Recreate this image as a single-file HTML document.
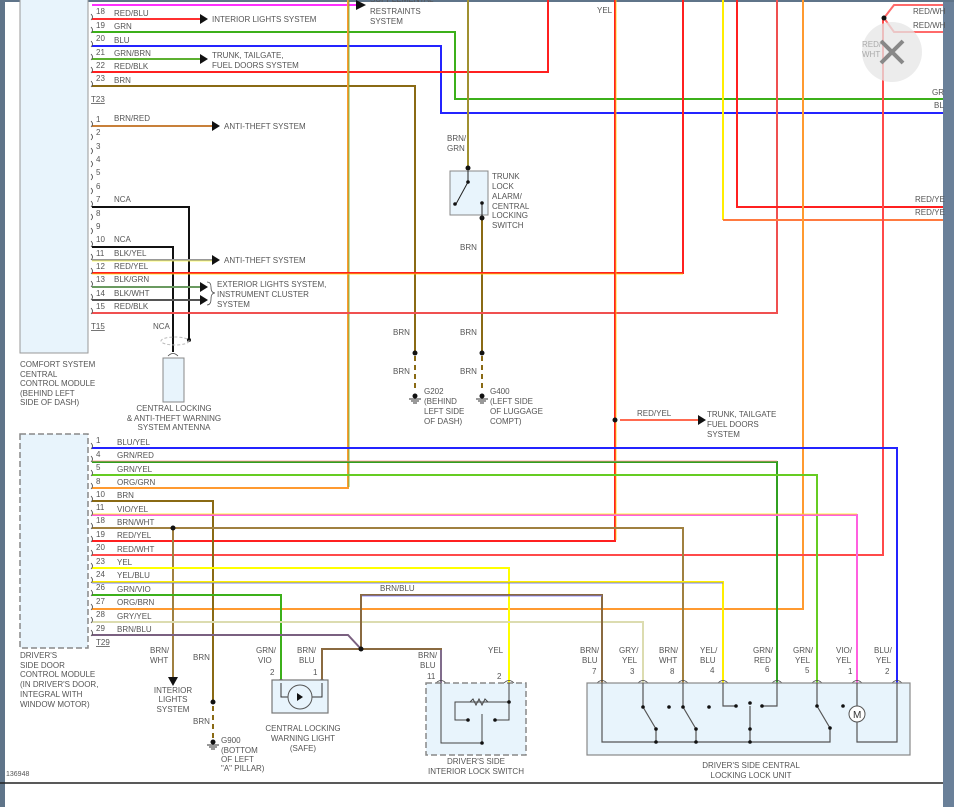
<!DOCTYPE html>
<html><head><meta charset="utf-8"><style>
html,body{margin:0;padding:0;background:#fff;}
svg{display:block;}
text{font-family:"Liberation Sans",sans-serif;font-size:8px;fill:#555;}
</style></head><body>
<svg width="954" height="807" viewBox="0 0 954 807" xmlns="http://www.w3.org/2000/svg">
<rect x="0" y="0" width="954" height="807" fill="#fff"/>
<rect x="0" y="0" width="5" height="807" fill="#5f7489"/>
<rect x="943" y="0" width="11" height="807" fill="#6a8099"/>
<rect x="0" y="0" width="954" height="2" fill="#5f7489"/>
<line x1="0" y1="783" x2="943" y2="783" stroke="#222" stroke-width="1.5"/>

<!-- modules -->
<rect x="20" y="-2" width="68" height="355" fill="#e8f4fc" stroke="#999" stroke-width="1"/>
<rect x="20" y="434" width="68" height="214" fill="#e8f4fc" stroke="#888" stroke-width="1.5" stroke-dasharray="6,3"/>

<g fill="none" stroke-width="2">
<!-- top connector wires -->
<path d="M92 5H356" stroke="#ff30ff"/>
<path d="M92 19H200" stroke="#ff3030"/>
<path d="M92 32H455V99H943" stroke="#3cb01a"/>
<path d="M92 46H441V113H943" stroke="#2424ff"/>
<path d="M92 59H200" stroke="#5cb030"/>
<path d="M92 72H548V0" stroke="#ff2020"/>
<path d="M92 86H415V353" stroke="#8a6a14"/>
<path d="M415 356V392" stroke="#8a6a14" stroke-dasharray="5,4"/>
<path d="M348 0V488H92" stroke="#ff9a30"/>
<path d="M349 0V487" stroke="#5cb030" stroke-width="0.8"/>
<path d="M468 0V168" stroke="#a09030"/>
<path d="M482 218V353" stroke="#8a6a14"/>
<path d="M482 356V392" stroke="#8a6a14" stroke-dasharray="5,4"/>
<path d="M92 126H212" stroke="#c8803a"/>
<path d="M92 207H189V340" stroke="#111"/>
<path d="M92 247H173V352" stroke="#111"/>
<path d="M92 260H212" stroke="#999"/>
<path d="M92 261H212" stroke="#ffff40" stroke-width="0.8"/>
<path d="M92 273H683V0" stroke="#ff2020"/>
<path d="M92 274H683" stroke="#ffdd00" stroke-width="0.8"/>
<path d="M92 287H200" stroke="#6a9a60"/>
<path d="M92 300H200" stroke="#555"/>
<path d="M92 313H777V0" stroke="#f05050"/>
<path d="M615 0V541H92" stroke="#ff2020"/>
<path d="M616 0V540" stroke="#ffcc00" stroke-width="0.8"/>
<path d="M620 420H698" stroke="#ff6a50"/>
<path d="M723 0V220" stroke="#ffee00"/>
<path d="M723 220H943" stroke="#ff7a40"/>
<path d="M737 0V207H943" stroke="#ff2020"/>
<path d="M803 0V609H92" stroke="#ff9a30"/>
<path d="M883 18V555H92" stroke="#ff4a4a"/>
<path d="M884 18L894 5H943M884 18L894 32H943" stroke="#ff6a6a"/>
<!-- bottom connector wires -->
<path d="M92 448H897V683" stroke="#2424ff"/>
<path d="M92 462H777V683" stroke="#30a020"/>
<path d="M92 461H777" stroke="#ff9090" stroke-width="0.8"/>
<path d="M92 475H817V683" stroke="#66cc22"/>
<path d="M92 501H213V702" stroke="#8a6a14"/>
<path d="M213 706V738" stroke="#8a6a14" stroke-dasharray="5,4"/>
<path d="M92 515H857V683" stroke="#ff60e0"/>
<path d="M92 514H857" stroke="#ffee00" stroke-width="0.8"/>
<path d="M92 528H683V683" stroke="#a08040"/>
<path d="M173 528V680" stroke="#a08040"/>
<path d="M92 568H509V683" stroke="#ffff00"/>
<path d="M92 582H723V683" stroke="#ffee00"/>
<path d="M92 583H723" stroke="#5060ff" stroke-width="0.8"/>
<path d="M92 595H281V683" stroke="#3cb01a"/>
<path d="M92 622H643V683" stroke="#dcdcb0"/>
<path d="M92 635H348L361 649" stroke="#7a6080"/>
<path d="M361 649H322V683M361 649H441V683M361 649V595H602V683" stroke="#8a6a40"/>
<path d="M362 596H602M441 650V683" stroke="#7070ff" stroke-width="0.8"/>
</g>

<!-- arrows -->
<g fill="#111">
<polygon points="356,0 366,5 356,10"/>
<polygon points="200,14 208,19 200,24"/>
<polygon points="200,54 208,59 200,64"/>
<polygon points="212,121 220,126 212,131"/>
<polygon points="212,255 220,260 212,265"/>
<polygon points="200,282 208,287 200,292"/>
<polygon points="200,295 208,300 200,305"/>
<polygon points="698,415 706,420 698,425"/>
<polygon points="168,677 178,677 173,686"/>
</g>
<path d="M207 282q4 0 4 5q0 6 4 6q-4 0-4 6q0 6-4 6" fill="none" stroke="#555" stroke-width="0.8"/>

<!-- dots -->
<g fill="#111">
<circle cx="173" cy="528" r="2.5"/><circle cx="361" cy="649" r="2.5"/>
<circle cx="615" cy="420" r="2.5"/><circle cx="884" cy="18" r="2.5"/>
<circle cx="415" cy="353" r="2.5"/><circle cx="482" cy="353" r="2.5"/>
<circle cx="213" cy="702" r="2.5"/><circle cx="468" cy="168" r="2.5"/>
<circle cx="482" cy="218" r="2.5"/><circle cx="189" cy="340" r="2"/>
<circle cx="415" cy="396" r="2.5"/><circle cx="482" cy="396" r="2.5"/><circle cx="213" cy="742" r="2.5"/>
</g>
<g stroke="#333" stroke-width="1">
<path d="M409 399h12M411 401h8M413 403h4"/>
<path d="M476 399h12M478 401h8M480 403h4"/>
<path d="M207 745h12M209 747h8M211 749h4"/>
</g>

<!-- connector glyphs -->
<g fill="none" stroke="#444" stroke-width="0.8">
<path d="M91 14q3 3 0 6M91 27q3 3 0 6M91 41q3 3 0 6M91 54q3 3 0 6M91 67q3 3 0 6M91 81q3 3 0 6"/>
<path d="M91 121q3 3 0 6M91 134q3 3 0 6M91 148q3 3 0 6M91 161q3 3 0 6M91 174q3 3 0 6M91 188q3 3 0 6M91 201q3 3 0 6M91 214q3 3 0 6M91 228q3 3 0 6M91 241q3 3 0 6M91 254q3 3 0 6M91 268q3 3 0 6M91 281q3 3 0 6M91 294q3 3 0 6M91 308q3 3 0 6"/>
<path d="M91 443q3 3 0 6M91 456q3 3 0 6M91 470q3 3 0 6M91 483q3 3 0 6M91 496q3 3 0 6M91 510q3 3 0 6M91 523q3 3 0 6M91 536q3 3 0 6M91 550q3 3 0 6M91 563q3 3 0 6M91 577q3 3 0 6M91 590q3 3 0 6M91 604q3 3 0 6M91 617q3 3 0 6M91 630q3 3 0 6"/>
<path d="M597 683q5-5 10 0M638 683q5-5 10 0M678 683q5-5 10 0M718 683q5-5 10 0M772 683q5-5 10 0M812 683q5-5 10 0M852 683q5-5 10 0M892 683q5-5 10 0M276 682q5-5 10 0M317 682q5-5 10 0M436 683q5-5 10 0M504 683q5-5 10 0M168 356q5-5 10 0"/>
</g>

<!-- components -->
<rect x="450" y="171" width="38" height="44" fill="#e8f4fc" stroke="#888"/>
<path d="M468 171V182L456 204M482 203V218" stroke="#222" fill="none"/>
<circle cx="468" cy="182" r="1.8" fill="#111"/><circle cx="455" cy="204" r="1.8" fill="#111"/><circle cx="482" cy="203" r="1.8" fill="#111"/>
<ellipse cx="175" cy="341" rx="14" ry="4" fill="none" stroke="#bbb" stroke-dasharray="3,2"/>
<rect x="163" y="358" width="21" height="44" fill="#e8f4fc" stroke="#888"/>
<rect x="272" y="680" width="56" height="33" fill="#e8f4fc" stroke="#777" stroke-width="1.2"/>
<path d="M281 683V697H322V683" fill="none" stroke="#333"/>
<circle cx="300" cy="697" r="12" fill="#e8f4fc" stroke="#555"/>
<polygon points="297,693 297,701 303,697" fill="#111"/>
<rect x="426" y="683" width="100" height="72" fill="#e8f4fc" stroke="#888" stroke-width="1.5" stroke-dasharray="6,3"/>
<path d="M441 683V743H482V720M509 683V702H455V720H468M509 702V720H495M482 720V714M468 702" fill="none" stroke="#444"/>
<path d="M470 702l3-3 3 6 3-6 3 6 3-6 3 3" fill="none" stroke="#444"/>
<g fill="#111"><circle cx="468" cy="720" r="1.8"/><circle cx="495" cy="720" r="1.8"/><circle cx="509" cy="702" r="1.8"/><circle cx="482" cy="743" r="1.8"/></g>
<rect x="587" y="683" width="323" height="72" fill="#e8f4fc" stroke="#888" stroke-width="1.2"/>
<path d="M602 683V742H830V728M643 683V707L656 729V742M683 683V707L696 729V742M723 683V706H736M777 683V706H762M750 706V742M817 683V706L830 728M857 683V706M857 722V742H897V683" fill="none" stroke="#555" stroke-width="1.2"/>
<circle cx="857" cy="714" r="8" fill="#fff" stroke="#555"/>
<text x="853" y="718" style="font-size:10px;fill:#333">M</text>
<g fill="#111"><circle cx="643" cy="707" r="1.8"/><circle cx="656" cy="729" r="1.8"/><circle cx="669" cy="707" r="1.8"/><circle cx="683" cy="707" r="1.8"/><circle cx="696" cy="729" r="1.8"/><circle cx="709" cy="707" r="1.8"/><circle cx="736" cy="706" r="1.8"/><circle cx="750" cy="703" r="1.8"/><circle cx="750" cy="729" r="1.8"/><circle cx="762" cy="706" r="1.8"/><circle cx="817" cy="706" r="1.8"/><circle cx="830" cy="728" r="1.8"/><circle cx="843" cy="706" r="1.8"/><circle cx="656" cy="742" r="1.8"/><circle cx="696" cy="742" r="1.8"/><circle cx="750" cy="742" r="1.8"/></g>

<!-- close overlay -->
<circle cx="892" cy="52" r="30" fill="#e6e6e6" fill-opacity="0.75"/>
<path d="M881 41L903 63M903 41L881 63" stroke="#888" stroke-width="4"/>

<!-- labels top -->
<text x="370" y="2">SUPPLEMENTAL</text><text x="370" y="14">RESTRAINTS</text><text x="370" y="24">SYSTEM</text>
<text x="96" y="14">18</text><text x="114" y="16">RED/BLU</text>
<text x="96" y="28">19</text><text x="114" y="29">GRN</text>
<text x="96" y="41">20</text><text x="114" y="43">BLU</text>
<text x="96" y="55">21</text><text x="114" y="56">GRN/BRN</text>
<text x="96" y="68">22</text><text x="114" y="69">RED/BLK</text>
<text x="96" y="81">23</text><text x="114" y="83">BRN</text>
<text x="212" y="22">INTERIOR LIGHTS SYSTEM</text>
<text x="212" y="58">TRUNK, TAILGATE,</text><text x="212" y="68">FUEL DOORS SYSTEM</text>
<text x="91" y="102" text-decoration="underline">T23</text>
<text x="96" y="122">1</text><text x="114" y="121">BRN/RED</text>
<text x="96" y="135">2</text><text x="96" y="149">3</text><text x="96" y="162">4</text><text x="96" y="175">5</text><text x="96" y="189">6</text>
<text x="96" y="202">7</text><text x="114" y="202">NCA</text>
<text x="96" y="216">8</text><text x="96" y="229">9</text>
<text x="96" y="242">10</text><text x="114" y="242">NCA</text>
<text x="96" y="256">11</text><text x="114" y="256">BLK/YEL</text>
<text x="96" y="269">12</text><text x="114" y="269">RED/YEL</text>
<text x="96" y="282">13</text><text x="114" y="282">BLK/GRN</text>
<text x="96" y="296">14</text><text x="114" y="296">BLK/WHT</text>
<text x="96" y="309">15</text><text x="114" y="309">RED/BLK</text>
<text x="224" y="129">ANTI-THEFT SYSTEM</text>
<text x="224" y="263">ANTI-THEFT SYSTEM</text>
<text x="217" y="287">EXTERIOR LIGHTS SYSTEM,</text><text x="217" y="297">INSTRUMENT CLUSTER</text><text x="217" y="307">SYSTEM</text>
<text x="91" y="329" text-decoration="underline">T15</text>
<text x="153" y="329">NCA</text>
<text x="20" y="367">COMFORT SYSTEM</text><text x="20" y="377">CENTRAL</text><text x="20" y="386">CONTROL MODULE</text><text x="20" y="396">(BEHIND LEFT</text><text x="20" y="405">SIDE OF DASH)</text>
<text x="174" y="411" text-anchor="middle">CENTRAL LOCKING</text><text x="174" y="421" text-anchor="middle">&amp; ANTI-THEFT WARNING</text><text x="174" y="430" text-anchor="middle">SYSTEM ANTENNA</text>
<text x="447" y="141">BRN/</text><text x="447" y="151">GRN</text>
<text x="492" y="179">TRUNK</text><text x="492" y="189">LOCK</text><text x="492" y="199">ALARM/</text><text x="492" y="209">CENTRAL</text><text x="492" y="218">LOCKING</text><text x="492" y="228">SWITCH</text>
<text x="460" y="250">BRN</text>
<text x="393" y="335">BRN</text><text x="460" y="335">BRN</text>
<text x="393" y="374">BRN</text><text x="460" y="374">BRN</text>
<text x="424" y="394">G202</text><text x="424" y="404">(BEHIND</text><text x="424" y="414">LEFT SIDE</text><text x="424" y="424">OF DASH)</text>
<text x="490" y="394">G400</text><text x="490" y="404">(LEFT SIDE</text><text x="490" y="414">OF LUGGAGE</text><text x="490" y="424">COMPT)</text>
<text x="597" y="13">YEL</text>
<text x="913" y="14">RED/WH</text><text x="913" y="28">RED/WH</text>
<text x="862" y="47" style="fill:#aaa">RED/</text><text x="862" y="57" style="fill:#aaa">WHT</text>
<text x="932" y="95">GR</text><text x="934" y="108">BL</text>
<text x="915" y="202">RED/YE</text><text x="915" y="215">RED/YE</text>
<text x="637" y="416">RED/YEL</text>
<text x="707" y="417">TRUNK, TAILGATE</text><text x="707" y="427">FUEL DOORS</text><text x="707" y="437">SYSTEM</text>
<!-- bottom connector labels -->
<text x="96" y="443">1</text><text x="117" y="445">BLU/YEL</text>
<text x="96" y="457">4</text><text x="117" y="458">GRN/RED</text>
<text x="96" y="470">5</text><text x="117" y="472">GRN/YEL</text>
<text x="96" y="484">8</text><text x="117" y="485">ORG/GRN</text>
<text x="96" y="497">10</text><text x="117" y="498">BRN</text>
<text x="96" y="510">11</text><text x="117" y="512">VIO/YEL</text>
<text x="96" y="523">18</text><text x="117" y="525">BRN/WHT</text>
<text x="96" y="537">19</text><text x="117" y="538">RED/YEL</text>
<text x="96" y="550">20</text><text x="117" y="552">RED/WHT</text>
<text x="96" y="564">23</text><text x="117" y="565">YEL</text>
<text x="96" y="577">24</text><text x="117" y="578">YEL/BLU</text>
<text x="96" y="590">26</text><text x="117" y="592">GRN/VIO</text>
<text x="96" y="604">27</text><text x="117" y="605">ORG/BRN</text>
<text x="96" y="617">28</text><text x="117" y="619">GRY/YEL</text>
<text x="96" y="631">29</text><text x="117" y="632">BRN/BLU</text>
<text x="96" y="645" text-decoration="underline">T29</text>
<text x="380" y="591">BRN/BLU</text>
<text x="20" y="658">DRIVER'S</text><text x="20" y="668">SIDE DOOR</text><text x="20" y="677">CONTROL MODULE</text><text x="20" y="687">(IN DRIVER'S DOOR,</text><text x="20" y="697">INTEGRAL WITH</text><text x="20" y="707">WINDOW MOTOR)</text>
<text x="150" y="653">BRN/</text><text x="150" y="663">WHT</text>
<text x="193" y="660">BRN</text>
<text x="173" y="693" text-anchor="middle">INTERIOR</text><text x="173" y="702" text-anchor="middle">LIGHTS</text><text x="173" y="712" text-anchor="middle">SYSTEM</text>
<text x="193" y="724">BRN</text>
<text x="221" y="743">G900</text><text x="221" y="753">(BOTTOM</text><text x="221" y="762">OF LEFT</text><text x="221" y="771">"A" PILLAR)</text>
<text x="256" y="653">GRN/</text><text x="258" y="663">VIO</text><text x="270" y="675">2</text>
<text x="297" y="653">BRN/</text><text x="299" y="663">BLU</text><text x="313" y="675">1</text>
<text x="303" y="731" text-anchor="middle">CENTRAL LOCKING</text><text x="303" y="741" text-anchor="middle">WARNING LIGHT</text><text x="303" y="751" text-anchor="middle">(SAFE)</text>
<text x="418" y="658">BRN/</text><text x="420" y="668">BLU</text><text x="427" y="679">11</text>
<text x="488" y="653">YEL</text><text x="497" y="679">2</text>
<text x="476" y="764" text-anchor="middle">DRIVER'S SIDE</text><text x="476" y="774" text-anchor="middle">INTERIOR LOCK SWITCH</text>
<text x="580" y="653">BRN/</text><text x="582" y="663">BLU</text><text x="592" y="674">7</text>
<text x="619" y="653">GRY/</text><text x="622" y="663">YEL</text><text x="630" y="674">3</text>
<text x="659" y="653">BRN/</text><text x="659" y="663">WHT</text><text x="670" y="674">8</text>
<text x="700" y="653">YEL/</text><text x="700" y="663">BLU</text><text x="710" y="673">4</text>
<text x="753" y="653">GRN/</text><text x="754" y="663">RED</text><text x="765" y="672">6</text>
<text x="793" y="653">GRN/</text><text x="795" y="663">YEL</text><text x="805" y="673">5</text>
<text x="836" y="653">VIO/</text><text x="836" y="663">YEL</text><text x="848" y="674">1</text>
<text x="874" y="653">BLU/</text><text x="876" y="663">YEL</text><text x="885" y="674">2</text>
<text x="751" y="768" text-anchor="middle">DRIVER'S SIDE CENTRAL</text><text x="751" y="778" text-anchor="middle">LOCKING LOCK UNIT</text>
<text x="6" y="776" style="font-size:7px">136948</text>
</svg>
</body></html>
